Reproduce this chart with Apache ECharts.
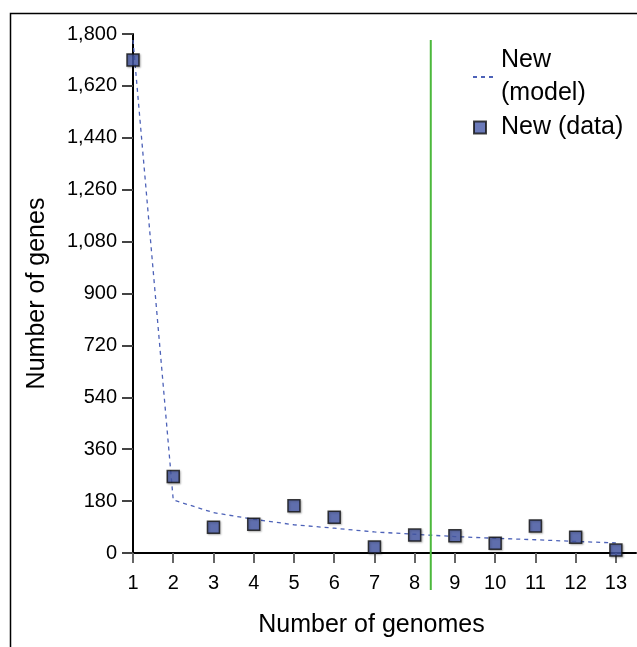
<!DOCTYPE html>
<html>
<head>
<meta charset="utf-8">
<title>Number of genes vs number of genomes</title>
<script src="https://cdn.jsdelivr.net/npm/echarts@6.0.0/dist/echarts.min.js"></script>
<style>
    html, body { margin: 0; padding: 0; background: #fff; }
    #chart { width: 637px; height: 647px; }
</style>
</head>
<body>
<div id="chart"></div>
<script>
//横轴：基因组数
const genomes = [1, 2, 3, 4, 5, 6, 7, 8, 9, 10, 11, 12, 13];
//新基因（数据点）
const newData = [1710, 265, 89, 100, 164, 124, 21, 62, 60, 34, 94, 55, 10];
//新基因（模型曲线）
const newModel = [1779, 184, 140, 117, 98, 86, 73, 65, 57, 51, 46, 40, 35];
//纵轴刻度
const yMin = 0;
const yMax = 1800;
const yStep = 180;
//绿色竖线的位置和上下端
const cutoffGenome = 8.4;
const cutoffSpan = [-128, 1779];

const font = 'Liberation Sans, Arial, Helvetica, sans-serif';
const modelColor = '#4d62b8';

let chart = echarts.init(document.getElementById('chart'));

let option = {
    animation: false,
    backgroundColor: '#fff',
    textStyle: { fontFamily: font, color: '#000' },
    //外框
    graphic: [{
        type: 'rect',
        shape: { x: 10.5, y: 13.5, width: 700, height: 700 },
        style: { fill: 'none', stroke: '#000', lineWidth: 1.5 },
        silent: true
    }],
    grid: {
        left: 133,
        top: 34,
        right: 1,
        bottom: 94
    },
    //图例（两个分开放，方便控制位置）
    legend: [
        {
            data: [{
                name: 'New\n(model)',
                //三段短虚线
                icon: 'path://M0,0h4v2h-4z M8,0h4v2h-4z M16,0h4v2h-4z',
                itemStyle: { color: modelColor }
            }],
            left: 473,
            top: 44,
            padding: 0,
            itemWidth: 20,
            itemHeight: 2,
            textStyle: { fontFamily: font, fontSize: 25, lineHeight: 33, color: '#000', padding: [0, 0, 0, 3] }
        },
        {
            data: ['New (data)'],
            left: 473,
            top: 111,
            padding: 0,
            itemWidth: 12,
            itemHeight: 12,
            textStyle: { fontFamily: font, fontSize: 25, lineHeight: 33, color: '#000', padding: [0, 0, 0, 10] }
        }
    ],
    xAxis: {
        type: 'value',
        min: 1,
        max: 13.5,
        interval: 1,
        name: 'Number of genomes',
        nameLocation: 'middle',
        nameGap: 60,
        nameTextStyle: { fontFamily: font, fontSize: 25, color: '#000', padding: [0, 26, 0, 0] },
        splitLine: { show: false },
        axisLine: { show: true, onZero: false, lineStyle: { color: '#000', width: 2 } },
        axisTick: { show: true, length: 10, customValues: genomes, lineStyle: { color: '#666', width: 2 } },
        axisLabel: { customValues: genomes, margin: 20, fontFamily: font, fontSize: 20, color: '#000' }
    },
    yAxis: {
        type: 'value',
        min: yMin,
        max: yMax,
        interval: yStep,
        name: 'Number of genes',
        nameLocation: 'middle',
        nameGap: 83,
        nameTextStyle: { fontFamily: font, fontSize: 25, color: '#000' },
        splitLine: { show: false },
        axisLine: { show: true, lineStyle: { color: '#000', width: 2 } },
        axisTick: { show: true, length: 11, lineStyle: { color: '#444', width: 2 } },
        axisLabel: {
            margin: 16,
            fontFamily: font,
            fontSize: 20,
            color: '#000',
            formatter: (v) => v.toLocaleString('en-US')
        }
    },
    series: [
        {
            name: 'New\n(model)',
            type: 'line',
            data: genomes.map((g, i) => [g, newModel[i]]),
            symbol: 'none',
            showSymbol: false,
            lineStyle: { color: modelColor, width: 1.3, type: [4, 4] },
            itemStyle: { color: modelColor },
            z: 2
        },
        {
            name: 'New (data)',
            type: 'scatter',
            data: genomes.map((g, i) => [g, newData[i]]),
            symbol: 'rect',
            symbolSize: 12,
            itemStyle: {
                color: '#4659a8',
                borderColor: '#111',
                borderWidth: 1.5,
                shadowColor: 'rgba(0,0,0,0.3)',
                shadowBlur: 2,
                shadowOffsetX: 1,
                shadowOffsetY: 1
            },
            z: 3
        },
        {
            //绿色竖线
            type: 'custom',
            silent: true,
            clip: false,
            data: [[cutoffGenome, cutoffSpan[0], cutoffSpan[1]]],
            encode: { x: 0, y: [1, 2] },
            renderItem: (params, api) => {
                const p1 = api.coord([api.value(0), api.value(1)]);
                const p2 = api.coord([api.value(0), api.value(2)]);
                return {
                    type: 'line',
                    shape: { x1: p1[0], y1: p1[1], x2: p2[0], y2: p2[1] },
                    style: { stroke: '#4cb83c', lineWidth: 2 }
                };
            },
            z: 5
        }
    ]
};
chart.setOption(option);
</script>
</body>
</html>
